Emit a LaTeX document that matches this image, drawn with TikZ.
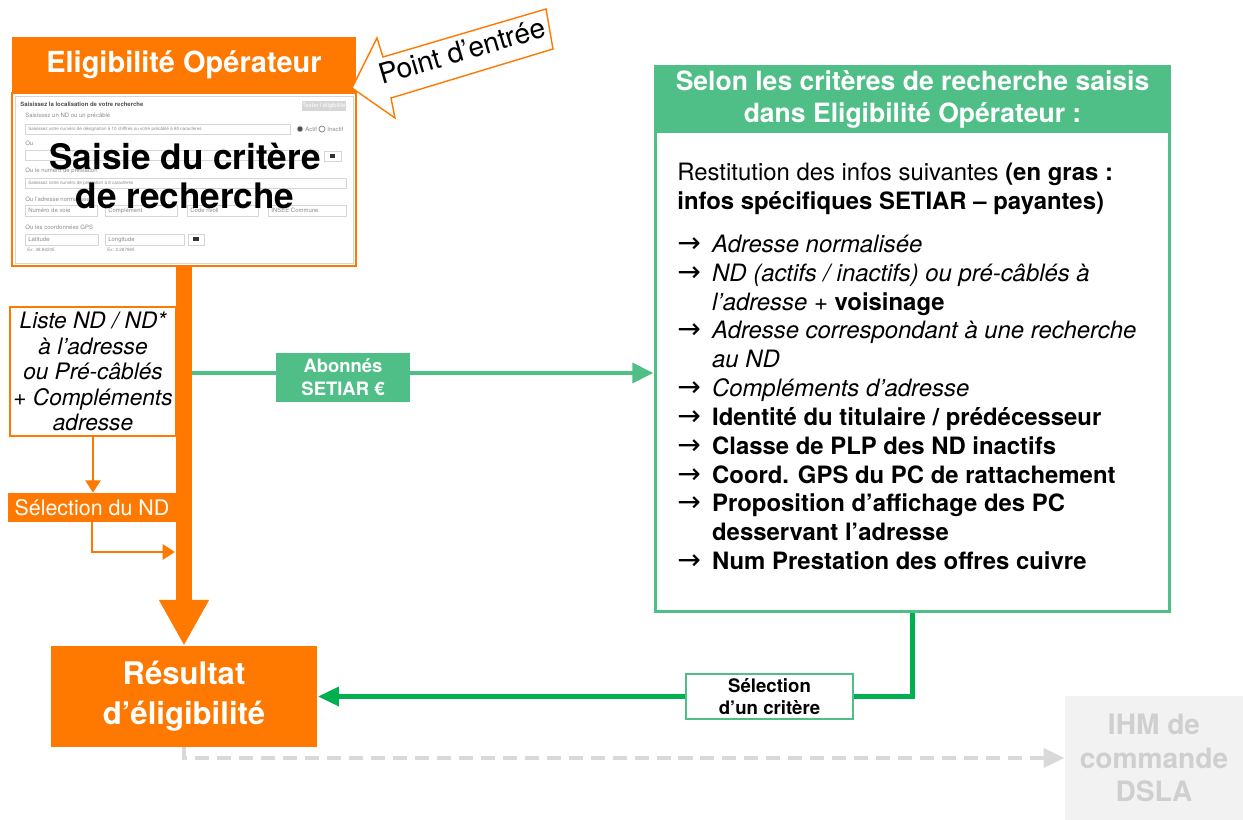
\documentclass[tikz,border=0pt]{standalone}
\usepackage{fontspec}
\setmainfont{TeX Gyre Heros}
\newfontfamily\arrowfont{DejaVu Sans}
\usetikzlibrary{arrows.meta,calc}
\definecolor{orangeO}{HTML}{FF7900}
\definecolor{greenL}{HTML}{50BF87}
\definecolor{greenD}{HTML}{00B050}
\definecolor{grayL}{HTML}{D9D9D9}
\definecolor{grayF}{HTML}{F2F2F2}
\definecolor{grayT}{HTML}{CFCFCF}
\definecolor{formtxt}{HTML}{8C8C8C}
\definecolor{formbox}{HTML}{D6D6D6}
\newcommand{\fsz}[2]{\fontsize{#1}{#2}\selectfont}
\newcommand{\ia}{\makebox[19.8pt][l]{\arrowfont\fsz{16}{16.4}→}}
\newcommand{\ib}{\hspace*{19.8pt}}
\tikzset{
	orangebox/.style={fill=orangeO, text=white, inner sep=0pt},
	calloutline/.style={draw=orangeO, line width=0.8pt, fill=white},
	formline/.style={draw=formbox, line width=0.4pt},
	formtext/.style={anchor=west, inner sep=0pt, text=formtxt, font=\fsz{3.4}{4}},
	orthin/.style={draw=orangeO, line width=1.7pt, -{Triangle[length=7pt,width=8.5pt]}},
	trunk/.style={draw=orangeO, line width=9pt, -{Triangle[length=26pt,width=26.6pt]}},
	abol/.style={draw=greenL, line width=2.8pt, -{Triangle[length=12pt,width=11pt]}},
	darkl/.style={draw=greenD, line width=2.8pt, -{Triangle[length=12pt,width=10.5pt]}},
	dashl/.style={draw=grayL, line width=2.8pt, dash pattern=on 8pt off 4.5pt, -{Triangle[length=12pt,width=10.5pt]}},
}
\begin{document}
\begin{tikzpicture}[x=0.02cm,y=-0.02cm]
		%%%%% START %%%%%
		\useasboundingbox (0,0) rectangle (1243,820);
		
		% point d'entree
		\node[orangebox, minimum width=6.88cm, minimum height=1.1cm, font=\bfseries\fsz{16.5}{20}] (title) at (184,64.5) {Eligibilité Opérateur};
		\draw[calloutline] (352,88) -- (377,38) -- (383,57) -- (546,9) -- (553,49) -- (391,98) -- (395,118) -- cycle;
		\node[rotate=16.4, inner sep=0pt, font=\fsz{16}{18}] (entry) at (462,51) {Point d’entrée};
		
		% capture du formulaire
		\node[draw=orangeO, line width=1.2pt, fill=white, minimum width=6.88cm, minimum height=3.46cm] (shot) at (184,179.5) {};
		\draw[formline] (15,96) rectangle (353,263);
		\node[formtext, text=black!70, font=\bfseries\fsz{3.4}{4}] (s1) at (20,104) {Saisissez la localisation de votre recherche};
		\draw[fill=formbox, draw=none] (302,101) rectangle (346,111);
		\node[formtext, anchor=center, text=white] (s2) at (324,106) {Tester l’éligibilité};
		\node[formtext] (s3) at (25,116) {Saisissez un ND ou un précâblé};
		\draw[formline] (25,124) rectangle (290,134);
		\node[formtext, font=\fsz{2.6}{3}] (s4) at (28,129) {Saisissez votre numéro de désignation à 10 chiffres ou votre précâblé à 80 caractères};
		\draw[formline, fill=black!70] (300,129) circle (3);
		\node[formtext] (s5) at (305,129) {Actif};
		\draw[formline, draw=black!50] (322,129) circle (3);
		\node[formtext] (s6) at (327,129) {Inactif};
		\node[formtext] (s7) at (25,143) {Ou};
		\draw[formline] (25,150) rectangle (318,160);
		\draw[formline] (324,151) rectangle (341,161);
		\draw[fill=black!80, draw=none] (330,154) rectangle (335,158);
		\node[formtext] (s8) at (25,171) {Ou le numéro de prestation};
		\draw[formline] (25,178) rectangle (346,188);
		\node[formtext, font=\fsz{2.6}{3}] (s9) at (28,183) {Saisissez votre numéro de prestation à 8 caractères};
		\node[formtext] (s10) at (25,199) {Ou l’adresse normalisée};
		\draw[formline] (25,205) rectangle (97,216);
		\draw[formline] (105,205) rectangle (177,216);
		\draw[formline] (187,205) rectangle (258,216);
		\draw[formline] (268,205) rectangle (346,216);
		\node[formtext] (s11) at (28,210.5) {Numéro de voie};
		\node[formtext] (s12) at (108,210.5) {Complément};
		\node[formtext] (s13) at (190,210.5) {Code rivoli};
		\node[formtext] (s14) at (271,210.5) {INSEE Commune};
		\node[formtext] (s15) at (25,227) {Ou les coordonnées GPS};
		\draw[formline] (25,234) rectangle (98,245);
		\draw[formline] (105,234) rectangle (184,245);
		\draw[formline] (188,234) rectangle (204,245);
		\draw[fill=black!80, draw=none] (193,237) rectangle (199,241);
		\node[formtext] (s16) at (28,239.5) {Latitude};
		\node[formtext] (s17) at (108,239.5) {Longitude};
		\node[formtext, font=\fsz{2.6}{3}] (s18) at (27,250) {Ex: 48.86235};
		\node[formtext, font=\fsz{2.6}{3}] (s19) at (107,250) {Ex: 2.287865};
		\node[inner sep=0pt, align=center, font=\bfseries\fsz{20}{22.7}] (crit) at (185,176) {Saisie du critère\\de recherche};
		
		% bloc vert
		\node[draw=greenL, line width=1.7pt, fill=white, minimum width=10.3cm, minimum height=10.92cm] (info) at (912.5,339) {};
		\node[fill=greenL, text=white, inner sep=0pt, align=center, minimum width=10.3cm, minimum height=1.34cm, font=\bfseries\fsz{15.1}{18.1}] (infohead) at (912.5,99.5) {Selon les critères de recherche saisis\\dans Eligibilité Opérateur :};
		\node[anchor=north west, inner sep=0pt, align=left, font=\fsz{13.6}{16.4}] (infotxt) at (677,163) {%
			Restitution des infos suivantes \textbf{(en gras :}\\
			\textbf{infos spécifiques SETIAR – payantes)}\\[8pt]
			\ia\textit{Adresse normalisée}\\
			\ia\textit{ND (actifs / inactifs) ou pré-câblés à}\\
			\ib\textit{l’adresse} + \textbf{voisinage}\\
			\ia\textit{Adresse correspondant à une recherche}\\
			\ib\textit{au ND}\\
			\ia\textit{Compléments d’adresse}\\
			\ia\textbf{Identité du titulaire / prédécesseur}\\
			\ia\textbf{Classe de PLP des ND inactifs}\\
			\ia\textbf{Coord. GPS du PC de rattachement}\\
			\ia\textbf{Proposition d’affichage des PC}\\
			\ib\textbf{desservant l’adresse}\\
			\ia\textbf{Num Prestation des offres cuivre}};
		
		% resultat
		\node[orangebox, align=center, minimum width=5.34cm, minimum height=2.02cm, font=\bfseries\fsz{17.7}{22.7}] (res) at (184,696.5) {Résultat\\d’éligibilité};
		\node[draw=grayF, fill=grayF, text=grayT, inner sep=0pt, align=center, minimum width=3.56cm, minimum height=2.48cm, font=\bfseries\fsz{16}{19.3}] (ihm) at (1154,758) {IHM de\\commande\\DSLA};
		
		% tronc orange
		\draw[trunk] (shot.south) -- (res.north);
		\node[draw=orangeO, line width=1.2pt, fill=white, inner sep=0pt, align=center, minimum width=3.32cm, minimum height=2.58cm, font=\itshape\fsz{12.9}{14.5}] (liste) at (93,371.5) {Liste ND / ND*\\à l’adresse\\ou Pré-câblés\\+ Compléments\\adresse};
		\node[orangebox, minimum width=3.36cm, minimum height=0.58cm, font=\fsz{12.2}{14}] (selnd) at (92,507.5) {Sélection du ND};
		\coordinate (join) at (175,552);
		\draw[orthin] (liste.south) -- (liste.south |- selnd.north);
		\draw[orthin] (selnd.south) |- (join);
		
		% abonnes
		\coordinate (tap) at (192,373);
		\draw[abol] (tap) -- (tap -| info.west);
		\node[fill=greenL, text=white, inner sep=0pt, align=center, minimum width=2.68cm, minimum height=0.98cm, font=\bfseries\fsz{10.5}{13}] (abo) at (343,377.5) {Abonnés\\SETIAR €};
		
		% retour
		\draw[darkl] (info.south) |- (res.east);
		\node[draw=greenL, line width=1.2pt, fill=white, inner sep=0pt, align=center, minimum width=3.34cm, minimum height=0.9cm, font=\bfseries\fsz{10.6}{13}] (selcrit) at (769.5,696.5) {Sélection\\d’un critère};
		\draw[dashl] (res.south) |- (ihm.west);
		
		%%%%% END %%%%%
\end{tikzpicture}
\end{document}
